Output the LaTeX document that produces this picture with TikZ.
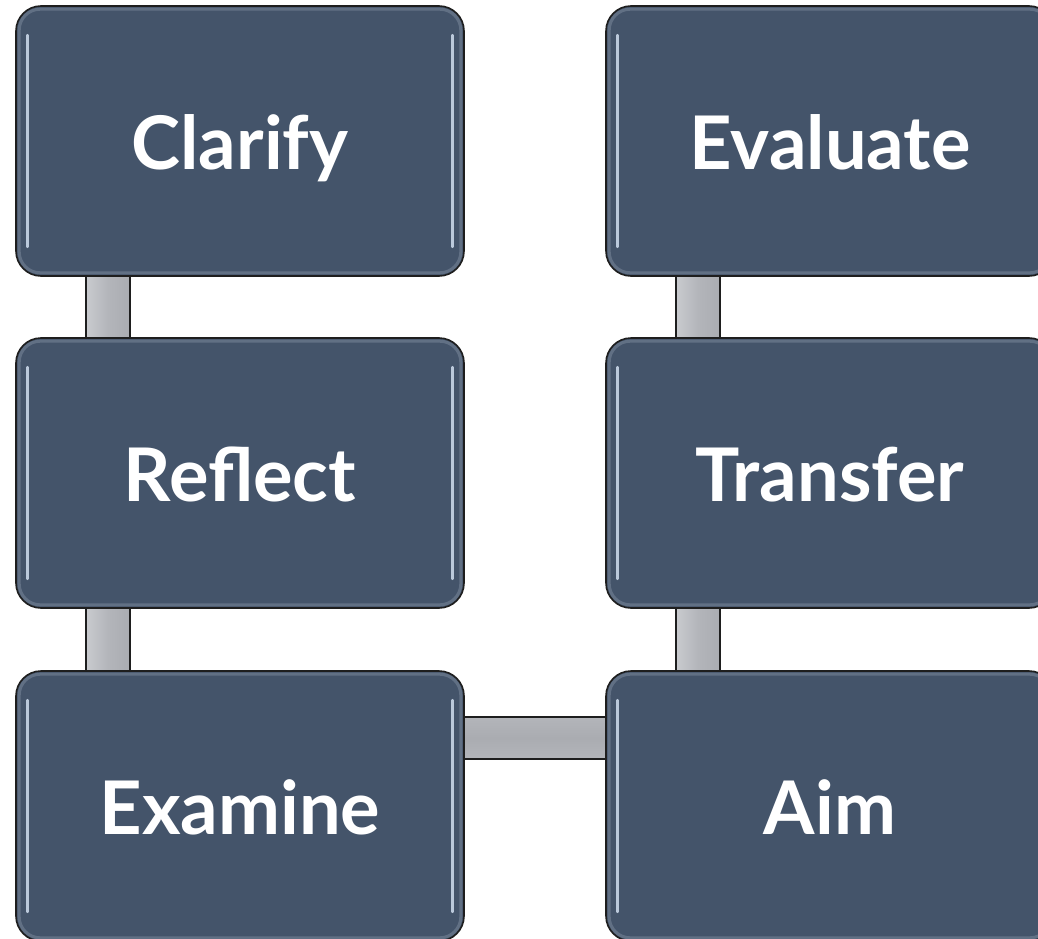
\documentclass[tikz,border=0pt]{standalone}
\usepackage{fontspec}
\setmainfont{Lato}
\usetikzlibrary{calc,backgrounds}
\definecolor{boxfill}{HTML}{44546A}
\definecolor{boxedge}{HTML}{1E1E1E}
\definecolor{hilite}{HTML}{C9D6E8}
\definecolor{bevelc}{HTML}{7A879B}
\definecolor{connmid}{HTML}{B3B5BA}
\definecolor{connlight}{HTML}{C9CBCF}
\definecolor{conndark}{HTML}{AAACB1}
\begin{document}
\begin{tikzpicture}[x=1pt,y=-1pt,
  stagebox/.style={rectangle, rounded corners=25pt, fill=boxfill, draw=boxedge,
    line width=1.6pt, minimum width=448pt, minimum height=270pt, inner sep=0pt,
    text=white, text height=56pt, text depth=0pt,
    font=\fontsize{74}{74}\selectfont\bfseries},
  bevelline/.style={draw=bevelc, line width=3pt, rounded corners=21pt, opacity=0.55},
  hiline/.style={draw=hilite, line width=2.8pt, line cap=round, opacity=0.9},
  connv/.style={left color=connlight, right color=conndark, middle color=connmid,
    draw=boxedge, line width=1.3pt},
  connh/.style={top color=connmid, bottom color=connmid, middle color=conndark,
    draw=boxedge, line width=1.3pt}]
\useasboundingbox (0,0) rectangle (1038,939);
\clip (0,0) rectangle (1038,939);

\node[stagebox] (c) at (240,141) {Clarify};
\node[stagebox] (r) at (240,473) {Reflect};
\node[stagebox] (e) at (240,806) {Examine};
\node[stagebox] (v) at (830,141) {Evaluate};
\node[stagebox] (t) at (830,473) {Transfer};
\node[stagebox] (a) at (830,806) {Aim};

\foreach \n in {c,r,e,v,t,a}{
  \path[bevelline] ([shift={(4pt,-4pt)}]\n.north west) rectangle ([shift={(-4pt,4pt)}]\n.south east);
  \draw[hiline] ([shift={(12pt,-30pt)}]\n.north west) -- ([shift={(12pt,30pt)}]\n.south west);
  \draw[hiline] ([shift={(-12pt,-30pt)}]\n.north east) -- ([shift={(-12pt,30pt)}]\n.south east);
}

\begin{scope}[on background layer]
  \fill[white] (0,0) rectangle (1038,939);
  \path[connv] ([xshift=-154pt]c.south) rectangle ([xshift=-110pt]r.north);
  \path[connv] ([xshift=-154pt]r.south) rectangle ([xshift=-110pt]e.north);
  \path[connv] ([xshift=-154pt]v.south) rectangle ([xshift=-110pt]t.north);
  \path[connv] ([xshift=-154pt]t.south) rectangle ([xshift=-110pt]a.north);
  \path[connh] ([yshift=89pt]e.east) rectangle ([yshift=47pt]a.west);
\end{scope}
\end{tikzpicture}
\end{document}
